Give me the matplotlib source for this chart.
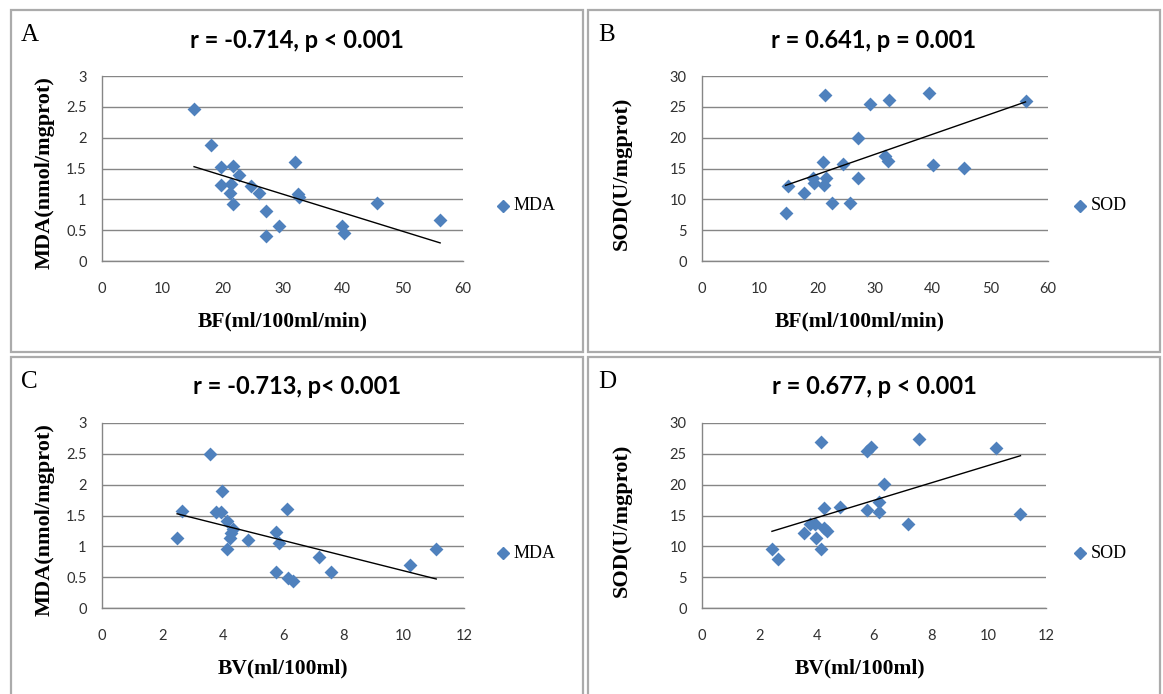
import numpy as np
import matplotlib
matplotlib.use("Agg")
import matplotlib.pyplot as plt
from matplotlib.patches import Rectangle
from matplotlib.lines import Line2D

# panel A: BF vs MDA
bf_a = [15.3, 18.1, 19.8, 21.8, 22.8, 19.8, 21.5, 21.3, 21.8, 24.8, 26.1,
        27.3, 27.2, 29.4, 32.0, 32.5, 32.8, 39.9, 40.2, 45.7, 56.2]
mda_a = [2.47, 1.88, 1.53, 1.54, 1.40, 1.23, 1.25, 1.11, 0.93, 1.22, 1.11,
         0.81, 0.41, 0.57, 1.60, 1.08, 1.03, 0.57, 0.46, 0.94, 0.67]

# panel B: BF vs SOD
bf_b = [21.3, 39.4, 29.1, 32.5, 56.1, 27.0, 20.9, 24.4, 31.7, 32.2, 40.0,
        45.5, 27.0, 19.3, 19.5, 21.5, 21.1, 14.9, 17.7, 22.5, 25.7, 14.5]
sod_b = [26.9, 27.3, 25.5, 26.1, 25.9, 20.0, 16.0, 15.7, 17.1, 16.2, 15.5,
         15.1, 13.5, 13.4, 12.7, 13.4, 12.3, 12.1, 11.1, 9.4, 9.4, 7.8]

# panel C: BV vs MDA
bv_c = [3.59, 3.99, 2.66, 3.77, 3.96, 4.14, 4.34, 4.29, 4.25, 4.15, 2.49,
        4.84, 6.14, 5.76, 5.87, 5.78, 6.17, 6.33, 7.18, 7.58, 10.22, 11.08]
mda_c = [2.49, 1.89, 1.57, 1.56, 1.56, 1.41, 1.28, 1.22, 1.13, 0.95, 1.13,
         1.10, 1.61, 1.24, 1.05, 0.59, 0.48, 0.43, 0.83, 0.58, 0.70, 0.96]

# panel D: BV vs SOD
bv_d = [4.16, 7.58, 10.26, 5.77, 5.89, 6.35, 4.27, 4.82, 6.16, 5.75, 6.16,
        11.11, 7.20, 3.75, 3.93, 3.57, 4.27, 4.36, 3.96, 4.15, 2.44, 2.64]
sod_d = [26.9, 27.4, 26.0, 25.5, 26.1, 20.1, 16.2, 16.4, 17.2, 15.9, 15.6,
         15.3, 13.6, 13.6, 13.6, 12.2, 13.0, 12.5, 11.3, 9.5, 9.5, 7.9]

titles = ["r = -0.714, p < 0.001", "r = 0.641, p = 0.001",
          "r = -0.713, p< 0.001", "r = 0.677, p < 0.001"]
letters = ["A", "B", "C", "D"]
ylabels = ["MDA(nmol/mgprot)", "SOD(U/mgprot)", "MDA(nmol/mgprot)", "SOD(U/mgprot)"]
xlabels = ["BF(ml/100ml/min)", "BF(ml/100ml/min)", "BV(ml/100ml)", "BV(ml/100ml)"]
legends = ["MDA", "SOD", "MDA", "SOD"]

W, H = 1163, 694
fig = plt.figure(figsize=(W / 100, H / 100), dpi=100)
fig.patch.set_facecolor("white")

blue = "#4F81BD"
grid = "#868686"
serif = "Liberation Serif"
sans = "Lato"


def fx(x):
    return x / W


def fy(y):
    return 1 - y / H


def panel(ox, oy, xs, ys, xmax, xstep, ymax, ystep, i, xr):
    # frame box
    bh = 342 if oy < 100 else H + 5 - oy
    fig.add_artist(Rectangle((fx(ox), fy(oy + bh)), 572 / W, bh / H,
                             transform=fig.transFigure, fill=False,
                             edgecolor="#ABABAB", linewidth=1.6))
    x0, x1 = ox + xr[0], ox + xr[1]
    y0, y1 = oy + 66, oy + 251
    ax = fig.add_axes([fx(x0), fy(y1), (x1 - x0) / W, (y1 - y0) / H])
    ax.scatter(xs, ys, marker="D", s=50, color=blue, zorder=3, linewidths=0)
    k, b = np.polyfit(xs, ys, 1)
    lx = np.array([min(xs), max(xs)])
    ax.plot(lx, k * lx + b, color="black", lw=1.0, zorder=4)
    ax.set_xlim(0, xmax)
    ax.set_ylim(0, ymax)
    ax.set_xticks(np.arange(0, xmax + 0.01, xstep))
    ax.set_yticks(np.arange(0, ymax + 0.01, ystep))
    ax.set_yticklabels([("%g" % v) for v in np.arange(0, ymax + 0.01, ystep)])
    ax.grid(axis="y", color=grid, lw=1.0)
    ax.set_axisbelow(True)
    for s in ["top", "right"]:
        ax.spines[s].set_visible(False)
    for s in ["left", "bottom"]:
        ax.spines[s].set_color(grid)
        ax.spines[s].set_linewidth(1.0)
    ax.tick_params(length=0, labelsize=10.5, labelcolor="#303030")
    for t in ax.get_xticklabels() + ax.get_yticklabels():
        t.set_fontfamily(sans)
    ax.tick_params(axis="y", pad=11)
    ax.tick_params(axis="x", pad=15)

    fig.text(fx(ox + 10), fy(oy + 25), letters[i], family=serif, fontsize=18,
             ha="left", va="center")
    fig.text(fx(ox + 286), fy(oy + 30), titles[i], family=sans, fontsize=17,
             fontweight="bold", ha="center", va="center")
    fig.text(fx(ox + 272), fy(oy + 311), xlabels[i], family=serif, fontsize=15.5,
             fontweight="bold", ha="center", va="center")
    fig.text(fx(ox + 34), fy(oy + 163), ylabels[i], family=serif, fontsize=16,
             fontweight="bold", ha="center", va="center", rotation=90)
    fig.add_artist(Line2D([fx(ox + 492)], [fy(oy + 196)], marker="D",
                          markersize=6, color=blue, linestyle="none",
                          transform=fig.transFigure))
    fig.text(fx(ox + 503), fy(oy + 196), legends[i], family=serif, fontsize=13,
             ha="left", va="center")


panel(11, 10, bf_a, mda_a, 60, 10, 3, 0.5, 0, (91, 452))
panel(588, 10, bf_b, sod_b, 60, 10, 30, 5, 1, (114, 460))
panel(11, 357, bv_c, mda_c, 12, 2, 3, 0.5, 2, (91, 453))
panel(588, 357, bv_d, sod_d, 12, 2, 30, 5, 3, (114, 458))

plt.savefig("out.png", dpi=100)
